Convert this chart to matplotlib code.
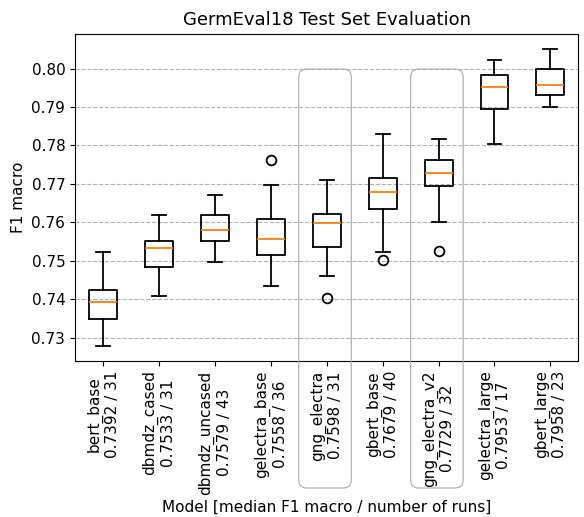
import matplotlib
matplotlib.use("Agg")
import matplotlib.pyplot as plt
from matplotlib.patches import FancyBboxPatch

# model names and run counts (tick labels)
models = ["bert_base", "dbmdz_cased", "dbmdz_uncased", "gelectra_base", "gng_electra",
          "gbert_base", "gng_electra_v2", "gelectra_large", "gbert_large"]
medians = [0.7392, 0.7533, 0.7579, 0.7558, 0.7598, 0.7679, 0.7729, 0.7953, 0.7958]
runs = [31, 31, 43, 36, 31, 40, 32, 17, 23]

# box statistics
q1 = [0.7348, 0.7484, 0.7552, 0.7515, 0.7537, 0.7636, 0.7695, 0.7896, 0.7930]
q3 = [0.7425, 0.7552, 0.7618, 0.7610, 0.7623, 0.7716, 0.7762, 0.7983, 0.7998]
whislo = [0.7279, 0.7409, 0.7496, 0.7435, 0.7461, 0.7523, 0.7601, 0.7804, 0.7899]
whishi = [0.7524, 0.7618, 0.7671, 0.7697, 0.7710, 0.7830, 0.7816, 0.8023, 0.8052]
fliers = [[], [], [], [0.7762], [0.7403], [0.7501], [0.7526], [], []]

yticks = [0.73, 0.74, 0.75, 0.76, 0.77, 0.78, 0.79, 0.80]
highlight = ["gng_electra", "gng_electra_v2"]

plt.rcParams['font.size'] = 11

dpi = 100
fig = plt.figure(figsize=(584 / dpi, 517 / dpi), dpi=dpi)
ax = fig.add_axes([0.1284, 0.3023, 0.862, 0.6325])

stats = []
for i in range(len(models)):
    stats.append(dict(med=medians[i], q1=q1[i], q3=q3[i], whislo=whislo[i],
                      whishi=whishi[i], fliers=fliers[i]))
lw = 1.3
ax.bxp(stats, positions=range(1, len(models) + 1),
       boxprops=dict(linewidth=lw), whiskerprops=dict(linewidth=lw),
       capprops=dict(linewidth=lw), medianprops=dict(linewidth=lw, color="C1"),
       flierprops=dict(markersize=7, markeredgewidth=1.3))

labels = [m + "\n" + "%.4f / %d" % (md, r) for m, md, r in zip(models, medians, runs)]
ax.set_xticks(range(1, len(models) + 1))
ax.set_xticklabels(labels, rotation=90)
ax.set_xlim(0.5, len(models) + 0.5)
ax.set_yticks(yticks)
ax.set_yticklabels(["%.2f" % t for t in yticks])
ax.yaxis.grid(True, linestyle="--", color="#b0b0b0")
ax.set_axisbelow(True)
ax.set_title("GermEval18 Test Set Evaluation", fontsize=13)
ax.set_ylabel("F1 macro")
ax.set_xlabel("Model [median F1 macro / number of runs]")

# rounded frames around the highlighted models
aspect = 584 / 517
for name in highlight:
    pos = models.index(name) + 1
    x0 = ax.transData.transform((pos - 0.5, 0))[0]
    x1 = ax.transData.transform((pos + 0.44, 0))[0]
    y1 = ax.transAxes.transform((0, 0.892))[1]
    (fx0, fy1) = fig.transFigure.inverted().transform((x0, y1))
    (fx1, _) = fig.transFigure.inverted().transform((x1, y1))
    fy0 = 29 / 517
    box = FancyBboxPatch((fx0, fy0), fx1 - fx0, fy1 - fy0,
                         boxstyle="round,pad=0,rounding_size=0.014",
                         mutation_aspect=aspect, transform=fig.transFigure,
                         fill=False, edgecolor="#aaaaaa", linewidth=0.8)
    fig.patches.append(box)

fig.savefig("out.png", dpi=dpi)
